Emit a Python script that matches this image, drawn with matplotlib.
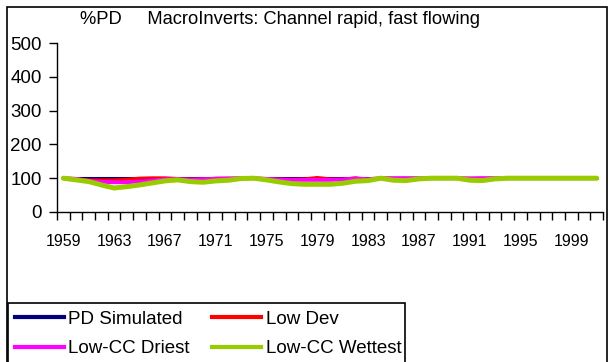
import matplotlib
matplotlib.use("Agg")
import matplotlib.pyplot as plt
from matplotlib.patches import Rectangle
from matplotlib.lines import Line2D

plt.rcParams['font.family'] = ['Liberation Sans', 'DejaVu Sans']

years = list(range(1959, 2002))

pd_simulated = [100] * 43

low_dev = [100, 98, 95, 95, 95, 97, 100, 101, 101, 99, 97, 97, 100, 100, 100,
           100, 98, 97, 97, 98, 102, 98, 97, 101, 96, 100, 100, 100, 100, 100,
           100, 100, 100, 100, 100, 100, 100, 100, 100, 100, 100, 100, 100]

low_cc_driest = [100, 98, 92, 89, 88, 88, 90, 93, 97, 97, 96, 97, 98, 99, 100,
                 100, 98, 96, 95, 95, 95, 95, 96, 99, 97, 100, 100, 100, 100, 100,
                 100, 100, 99, 100, 100, 100, 100, 100, 100, 100, 100, 100, 100]

low_cc_wettest = [100, 95, 90, 80, 71, 75, 80, 86, 92, 95, 90, 88, 92, 94, 99,
                  100, 95, 89, 84, 82, 82, 82, 85, 91, 93, 100, 94, 93, 98, 100,
                  100, 100, 94, 93, 98, 100, 100, 100, 100, 100, 100, 100, 100]

series_names = ["PD Simulated", "Low Dev", "Low-CC Driest", "Low-CC Wettest"]
series_colors = ["#000080", "#FF0000", "#FF00FF", "#99CC00"]
series_widths = [2.2, 2.2, 2.8, 3.6]
series_values = [pd_simulated, low_dev, low_cc_driest, low_cc_wettest]

y_ticks = [0, 100, 200, 300, 400, 500]
x_label_years = years[::4]

W, H = 610, 362
fig = plt.figure(figsize=(W / 100, H / 100), dpi=100)
ax = fig.add_axes([57 / W, 1 - 212 / H, (603 - 57) / W, (212 - 43) / H])

for vals, col, lw in zip(series_values, series_colors, series_widths):
    ax.plot(years, vals, color=col, lw=lw, solid_joinstyle='round',
            solid_capstyle='round', zorder=3)

ax.set_ylim(0, 500)
ax.set_yticks(y_ticks)
ax.set_yticklabels([str(v) for v in y_ticks], fontsize=13.5)
ax.tick_params(axis='y', direction='out', length=6, width=1, pad=5)

ax.set_xlim(years[0] - 0.5, years[-1] + 0.5)
ax.set_xticks([y - 0.5 for y in years] + [years[-1] + 0.5])
ax.set_xticklabels([])
ax.tick_params(axis='x', which='major', direction='out', length=6, width=1)
ax.set_xticks(x_label_years, minor=True)
ax.set_xticklabels([str(y) for y in x_label_years], minor=True, fontsize=11.5)
ax.tick_params(axis='x', which='minor', length=0, pad=16)

for s in ['top', 'right']:
    ax.spines[s].set_visible(False)
for s in ['left', 'bottom']:
    ax.spines[s].set_linewidth(1)

fig.text(80 / W, 1 - 20 / H, "%PD     MacroInverts: Channel rapid, fast flowing",
         fontsize=13.2, ha='left', va='center')

# outer chart frame
fig.add_artist(Rectangle((7 / W, -0.1), 600 / W, 1.1 - 7 / H, transform=fig.transFigure,
                         fill=False, ec='black', lw=1.2))

# legend box
fig.add_artist(Rectangle((8 / W, -0.1), (405 - 8) / W, 0.1 + 1 - 303 / H,
                         transform=fig.transFigure, fill=False, ec='black', lw=1.2))

handles = [Line2D([], [], color=c, lw=3) for c in series_colors]
order = [0, 2, 1, 3]
leg = fig.legend([handles[i] for i in order], [series_names[i] for i in order],
                 loc='upper left', bbox_to_anchor=(11 / W, 1 - 307 / H),
                 ncol=2, frameon=False, fontsize=13.5, handlelength=2.6,
                 handletextpad=0.25, columnspacing=1.2, labelspacing=0.65,
                 borderpad=0.2, borderaxespad=0)

fig.savefig("out.png", dpi=100)
